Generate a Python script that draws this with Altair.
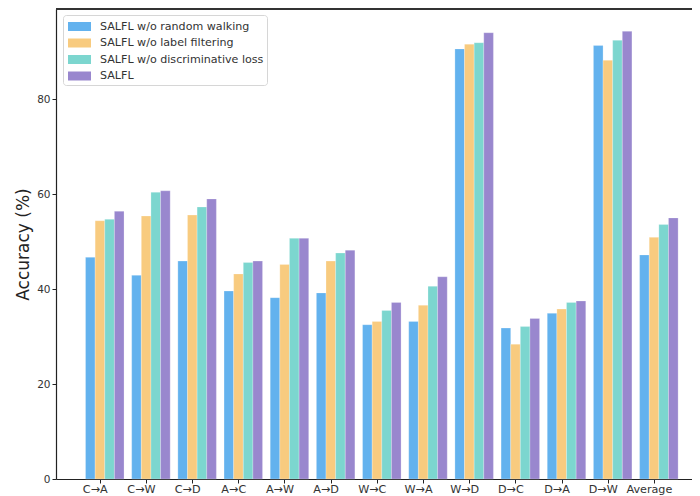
import altair as alt
import pandas as pd

cats = ["C→A", "C→W", "C→D", "A→C", "A→W", "A→D", "W→C", "W→A", "W→D",
        "D→C", "D→A", "D→W", "Average"]
series = ["SALFL w/o random walking", "SALFL w/o label filtering",
          "SALFL w/o discriminative loss", "SALFL"]
v_rw = [46.7, 42.9, 45.9, 39.6, 38.2, 39.2, 32.5, 33.2, 90.6, 31.8, 34.9, 91.3, 47.2]
v_lf = [54.4, 55.4, 55.6, 43.2, 45.2, 45.9, 33.2, 36.6, 91.6, 28.4, 35.8, 88.2, 50.9]
v_dl = [54.7, 60.4, 57.3, 45.6, 50.7, 47.6, 35.5, 40.6, 91.9, 32.1, 37.2, 92.4, 53.6]
v_full = [56.4, 60.7, 59.0, 45.9, 50.7, 48.2, 37.2, 42.6, 94.0, 33.8, 37.5, 94.3, 55.0]
colors = ["#63b2ee", "#f8cb7f", "#7cd6cf", "#9987ce"]

rows = []
for s, vals in zip(series, [v_rw, v_lf, v_dl, v_full]):
    for c, v in zip(cats, vals):
        rows.append({"cat": c, "series": s, "val": v})
df = pd.DataFrame(rows)

FONT = "DejaVu Sans"

bars = alt.Chart(df).mark_bar(stroke="white", strokeWidth=0.4, strokeOpacity=0.6).encode(
    x=alt.X("cat:N", sort=cats,
            scale=alt.Scale(paddingInner=0.166, paddingOuter=0.47, align=0.68),
            axis=alt.Axis(title=None, labelAngle=0, tickOffset=-5, labelOffset=-5,
                          labelFontSize=11.2, labelColor="#333", labelPadding=0,
                          tickSize=4, tickColor="#222", domainColor="#222",
                          domainWidth=1.2, labelFont=FONT)),
    xOffset=alt.XOffset("series:N", sort=series),
    y=alt.Y("val:Q", scale=alt.Scale(domain=[0, 99], nice=False),
            axis=alt.Axis(values=[0, 20, 40, 60, 80], title="Accuracy (%)",
                          grid=False, labelFontSize=10.5, labelColor="#333",
                          tickSize=4, tickColor="#222", domainColor="#222",
                          domainWidth=1.2, titleFontSize=17, titleFontWeight="normal",
                          titleColor="#222", titlePadding=4, labelFont=FONT,
                          titleFont=FONT)),
    color=alt.Color("series:N", sort=series,
                    scale=alt.Scale(domain=series, range=colors),
                    legend=alt.Legend(title=None, orient="none", legendX=7, legendY=6,
                                      fillColor="white", strokeColor="#d6d6d6",
                                      cornerRadius=3, padding=3,
                                      symbolType="M-1.35,-0.53H1.35V0.53H-1.35Z",
                                      symbolSize=289, symbolStrokeWidth=0,
                                      symbolOffset=5, labelOffset=12, rowPadding=2.5,
                                      labelFontSize=11.1, labelColor="#333",
                                      labelFont=FONT, labelLimit=300)),
)

top = alt.Chart(df).mark_rule(color="#333", strokeWidth=1.5).encode(
    y=alt.value(0), x=alt.value(0), x2=alt.value(636)
)

chart = alt.layer(bars, top).properties(
    width=636, height=470, autosize="none",
    padding={"left": 48, "top": 1, "right": 0, "bottom": 17},
).configure_view(stroke=None)

chart.save("out.html", embed_options={"renderer": "svg", "actions": False})
